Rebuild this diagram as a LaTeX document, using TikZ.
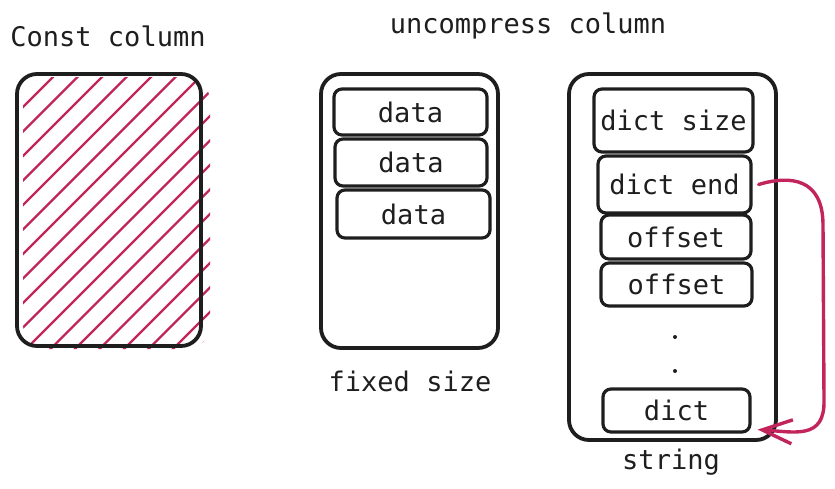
\documentclass[tikz,border=0pt]{standalone}
\usepackage{fontspec}
\setmonofont{DejaVu Sans Mono}
\usetikzlibrary{arrows.meta}
\definecolor{ink}{HTML}{1E1E1E}
\definecolor{pink}{HTML}{C2255C}
\newcommand\txt{\ttfamily\fontsize{27}{27}\selectfont}
\tikzset{col/.style={rectangle,draw=ink,line width=3.8pt,rounded corners=20pt,inner sep=0pt},
  cell/.style={rectangle,draw=ink,line width=3.2pt,rounded corners=8pt,inner sep=0pt,text=ink,font=\txt},
  lbl/.style={text=ink,font=\txt,inner sep=0pt},
  dot/.style={circle,fill=ink,inner sep=0pt,minimum size=4pt},
  hatchline/.style={draw=pink,line width=2.4pt},
  link/.style={draw=pink,line width=3.4pt,line cap=round,-{Straight Barb[length=30pt,width=24pt,line width=3.4pt]}}}

\begin{document}
\begin{tikzpicture}[x=1pt,y=-1pt]
                \useasboundingbox (0,0) rectangle (835,488);
                % const column
                \node[lbl] (constlbl) at (108,36) {Const column};
                \begin{scope}
                    \clip[rounded corners=24pt] (23,77) rectangle (210,349);
                    \foreach \k in {0,...,18}{\draw[hatchline] ({130+24.5*\k-400},400) -- ({130+24.5*\k},0);}
                \end{scope}
                \node[col, minimum width=184pt, minimum height=272pt] (const) at (109,210) {};

                % uncompress column
                \node[lbl] (uncomp) at (528,26) {uncompress column};

                \node[col, minimum width=177pt, minimum height=274pt] (fixed) at (409.5,211) {};
                \node[cell, minimum width=153pt, minimum height=46pt] (data1) at (410.5,112) {data};
                \node[cell, minimum width=152pt, minimum height=47pt] (data2) at (411,162.5) {data};
                \node[cell, minimum width=153pt, minimum height=48pt] (data3) at (413.5,214) {data};
                \node[lbl] (fixedlbl) at (410,381) {fixed size};

                \node[col, minimum width=207pt, minimum height=366pt] (str) at (672.5,257) {};
                \node[cell, minimum width=159pt, minimum height=63pt] (dictsize) at (673.5,120.5) {dict size};
                \node[cell, minimum width=153pt, minimum height=57pt] (dictend) at (674.5,184.5) {dict end};
                \node[cell, minimum width=150pt, minimum height=44pt] (offset1) at (676,237) {offset};
                \node[cell, minimum width=151pt, minimum height=43pt] (offset2) at (676.5,284.5) {offset};
                \node[dot] (dot1) at (675,337) {};
                \node[dot] (dot2) at (675,371) {};
                \node[cell, minimum width=147pt, minimum height=43pt] (dict) at (676.5,410.5) {dict};
                \node[lbl] (strlbl) at (671,462) {string};

                \draw[link] ([xshift=6pt]dictend.east) .. controls (790,175) and (823,178) .. (823,225)
                    -- (824,400) .. controls (825,440) and (795,432) .. ([shift={(6,-4)}]dict.south east);
            \end{tikzpicture}
\end{document}
